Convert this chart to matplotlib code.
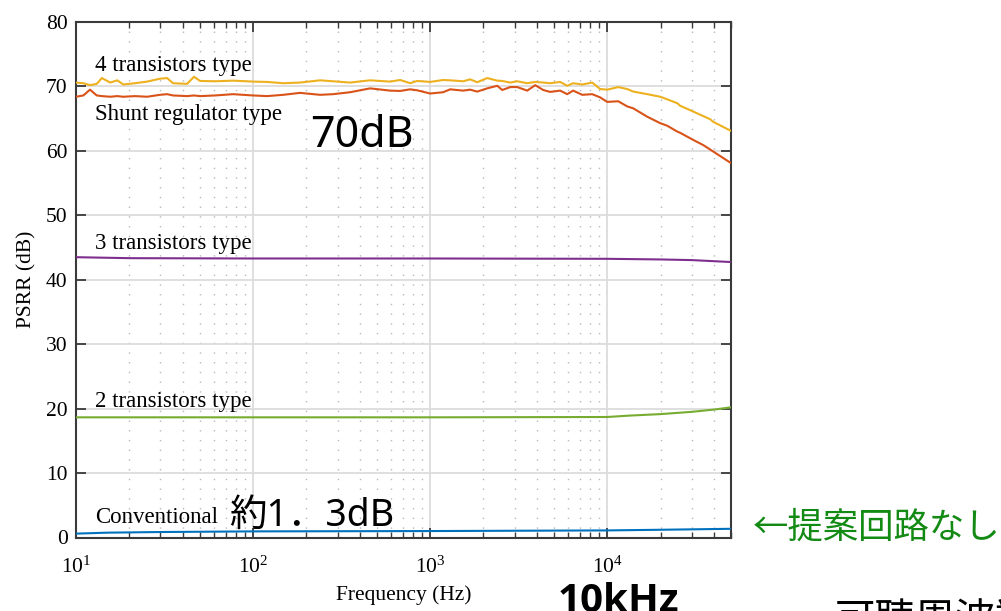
import matplotlib
matplotlib.use("Agg")
import matplotlib.pyplot as plt
from matplotlib.ticker import LogLocator, NullFormatter

plt.rcParams['font.family'] = ['Liberation Serif', 'DejaVu Serif']
plt.rcParams['mathtext.fontset'] = 'stix'

# ---- data ----
freq_hi = [10, 11, 12, 13.1, 14, 15.6, 17.1, 18.5, 21.5, 25.2, 29.8, 32.7, 35.3, 42.4, 46.4,
           50.2, 61, 77.1, 100, 120, 148, 184, 239, 283, 353, 458, 594, 677, 771, 845,
           1000, 1183, 1297, 1536, 1682, 1844, 2100, 2392, 2553, 2833, 3104, 3533, 3921,
           4349, 4761, 5423, 5942, 6424, 7222, 8226, 9122, 10000, 11540, 12970, 14030,
           16830, 19920, 21820, 24850, 25830, 30600, 34840, 38180, 39700, 50000]
psrr_4tr = [70.6, 70.5, 70.2, 70.4, 71.3, 70.6, 70.95, 70.3, 70.5, 70.75, 71.2, 71.3, 70.5,
            70.4, 71.5, 70.85, 70.8, 70.9, 70.75, 70.7, 70.5, 70.6, 70.95, 70.8, 70.6, 70.95,
            70.75, 71.0, 70.5, 70.85, 70.7, 71.0, 70.95, 70.8, 71.1, 70.65, 71.3, 70.9, 70.85,
            70.6, 70.8, 70.5, 70.7, 70.6, 70.5, 70.7, 70.1, 70.5, 70.3, 70.6, 69.6, 69.5, 69.9,
            69.6, 69.2, 68.8, 68.4, 68.0, 67.4, 67.0, 66.1, 65.4, 64.9, 64.5, 63.1]
psrr_shunt = [68.4, 68.6, 69.5, 68.6, 68.5, 68.4, 68.5, 68.4, 68.5, 68.4, 68.7, 68.8, 68.6,
              68.5, 68.6, 68.5, 68.6, 68.8, 68.6, 68.5, 68.7, 69.0, 68.7, 68.8, 69.1, 69.7,
              69.35, 69.3, 69.55, 69.4, 68.9, 69.1, 69.55, 69.35, 69.5, 69.2, 69.7, 70.1,
              69.45, 69.9, 69.9, 69.35, 70.2, 69.45, 69.15, 69.35, 68.8, 69.35, 68.7, 68.8,
              68.3, 67.6, 67.7, 66.9, 66.6, 65.3, 64.3, 63.9, 63.0, 62.8, 61.7, 60.9, 60.2,
              59.9, 58.1]
freq_3tr = [10, 20, 100, 1000, 10000, 20000, 30000, 50000]
psrr_3tr = [43.5, 43.35, 43.3, 43.3, 43.25, 43.15, 43.05, 42.75]
freq_2tr = [10, 100, 1000, 10000, 13000, 20000, 30000, 40000, 50000]
psrr_2tr = [18.65, 18.65, 18.65, 18.7, 18.9, 19.15, 19.5, 19.85, 20.2]
freq_conv = [10, 15, 30, 100, 1000, 10000, 20000, 50000]
psrr_conv = [0.6, 0.75, 0.85, 0.95, 1.0, 1.1, 1.2, 1.35]

labels = ["4 transistors type", "Shunt regulator type", "3 transistors type",
          "2 transistors type", "Conventional"]
label_y = [72.4, 64.8, 44.8, 20.25, 2.3]
colors = ["#EDB120", "#D95319", "#7E2F8E", "#77AC30", "#0072BD"]

W, H = 1001, 611
fig = plt.figure(figsize=(W / 100, H / 100), dpi=100)
ax = fig.add_axes([76 / W, 73.5 / H, 655 / W, 515.5 / H])

series = [(freq_hi, psrr_4tr), (freq_hi, psrr_shunt), (freq_3tr, psrr_3tr),
          (freq_2tr, psrr_2tr), (freq_conv, psrr_conv)]
for (f, v), c in zip(series, colors):
    ax.plot(f, v, color=c, lw=1.5, zorder=3)

ax.set_xscale('log')
ax.set_xlim(10, 50000)
ax.set_ylim(0, 80)
ax.set_yticks(range(0, 81, 10))
ax.xaxis.set_minor_locator(LogLocator(base=10, subs=range(2, 10), numticks=20))
ax.xaxis.set_minor_formatter(NullFormatter())

ax.grid(True, which='major', color='#dcdcdc', lw=1.3, ls='-', zorder=0)
ax.grid(True, which='minor', axis='x', color='#b8b8b8', lw=1.0, ls=(0, (1, 6)), zorder=0)
ax.set_axisbelow(True)

for s in ax.spines.values():
    s.set_color('#3a3a3a')
    s.set_linewidth(1.5)
ax.tick_params(which='both', direction='in', top=True, right=True, color='#3a3a3a')
ax.tick_params(which='major', length=7, width=1.3)
ax.tick_params(which='minor', length=4, width=1.0)
ax.tick_params(axis='y', labelsize=15.5, pad=6)
ax.tick_params(axis='x', labelsize=15.5, pad=14)

ax.set_xlabel("Frequency (Hz)", fontsize=15.5, labelpad=5)
ax.set_ylabel("PSRR (dB)", fontsize=15.5, labelpad=7)

for t, y in zip(labels, label_y):
    ax.text(12.8, y, t, fontsize=16.5, va='baseline', ha='left')

jp = ['Noto Sans', 'Noto Sans CJK JP', 'DejaVu Sans']
ax.text(210, 60.6, "70dB", fontsize=31, family=jp, va='baseline', ha='left')
ax.text(73, 1.8, "約1．3dB", fontsize=27, family=jp, va='baseline', ha='left')

fig.text(753 / W, 1 - 528 / H, "←提案回路なし", fontsize=25.5,
         family=['Noto Sans CJK JP', 'DejaVu Sans'],
         color='#138a13', va='center', ha='left')
fig.text(558 / W, 1 - 612 / H, "10kHz", fontsize=29,
         family=['Open Sans', 'Roboto', 'DejaVu Sans'], weight='bold',
         va='baseline', ha='left')
fig.text(835 / W, 1 - 600 / H, "可聴周波数", fontsize=29,
         family=['Noto Sans CJK JP', 'DejaVu Sans'],
         va='top', ha='left')

fig.savefig("out.png", dpi=100)
